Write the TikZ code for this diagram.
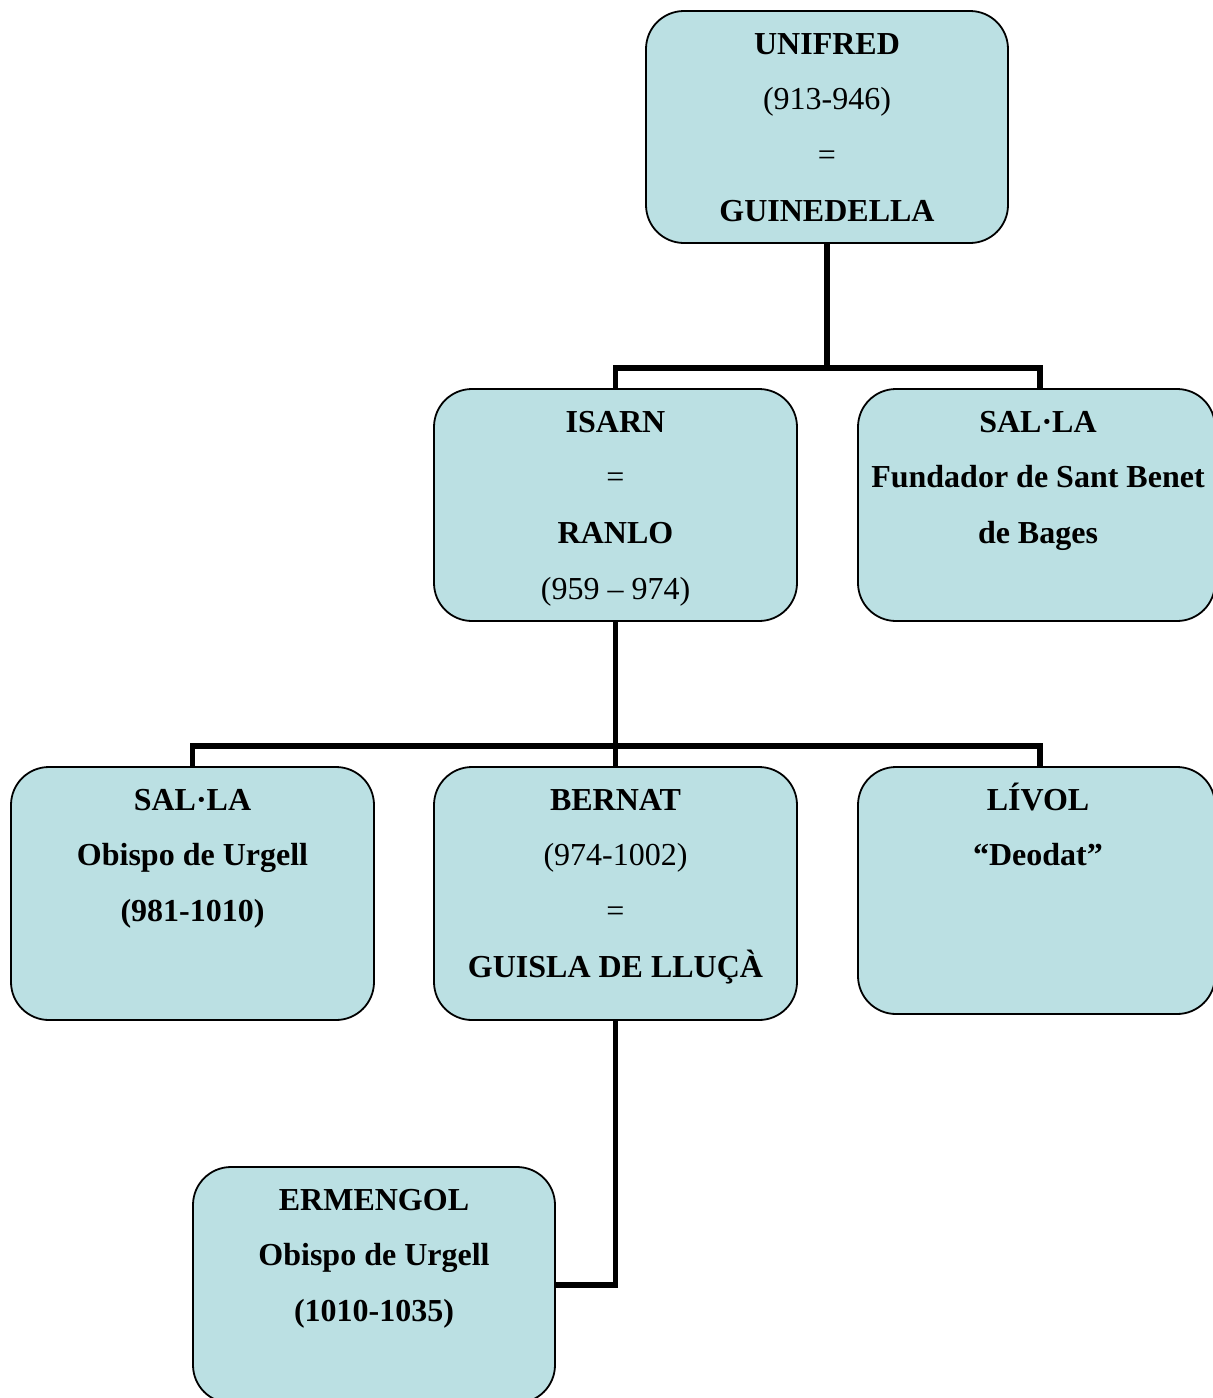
\documentclass[tikz,border=0pt]{standalone}
\usepackage{fontspec}
\setmainfont{Liberation Serif}
\definecolor{boxfill}{RGB}{187,224,227}
\begin{document}
\begin{tikzpicture}[x=1pt,y=-1pt,
  box/.style={draw=black, line width=1.8pt, fill=boxfill, rounded corners=38pt, inner sep=0pt},
  txt/.style={align=center, inner sep=0pt, anchor=base, font=\fontsize{32}{55.7}\selectfont\bfseries},
  conn/.style={line width=5.5pt, draw=black}]
\useasboundingbox (0,0) rectangle (1213,1398);
\clip (0,0) rectangle (1213,1398);
% boxes
\node[box, minimum width=362pt, minimum height=232pt] (unifred) at (827,127) {};
\node[box, minimum width=363pt, minimum height=232pt] (isarn) at (615.5,505) {};
\node[box, minimum width=357pt, minimum height=232pt] (salla1) at (1036.5,505) {};
\node[box, minimum width=363pt, minimum height=253pt] (salla2) at (192.5,893.5) {};
\node[box, minimum width=363pt, minimum height=253pt] (bernat) at (615.5,893.5) {};
\node[box, minimum width=357pt, minimum height=247pt] (livol) at (1036.5,890.5) {};
\node[box, minimum width=362pt, minimum height=236pt] (ermengol) at (374,1285) {};
% texts (anchor base = baseline of the last line)
\node[txt] (tunifred) at ([yshift=-211pt]unifred.north) {UNIFRED\\\mdseries(913-946)\\\mdseries=\\GUINEDELLA};
\node[txt] (tisarn) at ([yshift=-211pt]isarn.north) {ISARN\\\mdseries=\\RANLO\\\mdseries(959 – 974)};
\node[txt] (tsalla1) at ([xshift=1.5pt,yshift=-155.4pt]salla1.north) {SAL·LA\\Fundador de Sant Benet\\de Bages};
\node[txt] (tsalla2) at ([yshift=-155.4pt]salla2.north) {SAL·LA\\Obispo de Urgell\\(981-1010)};
\node[txt] (tbernat) at ([yshift=-211pt]bernat.north) {BERNAT\\\mdseries(974-1002)\\\mdseries=\\GUISLA DE LLUÇÀ};
\node[txt] (tlivol) at ([xshift=1.5pt,yshift=-99.7pt]livol.north) {LÍVOL\\“Deodat”};
\node[txt] (termengol) at ([yshift=-155.4pt]ermengol.north) {ERMENGOL\\Obispo de Urgell\\(1010-1035)};
% connectors
\coordinate (j1) at (827,368);
\coordinate (j2) at (615.5,746);
\draw[conn] (unifred.south) -- (j1);
\draw[conn] (isarn.north) |- (j1) -| ([xshift=3.5pt]salla1.north);
\draw[conn] (isarn.south) -- (bernat.north);
\draw[conn] (salla2.north) |- (j2) -| ([xshift=3.5pt]livol.north);
\draw[conn] (bernat.south) |- (ermengol.east);
\end{tikzpicture}
\end{document}
